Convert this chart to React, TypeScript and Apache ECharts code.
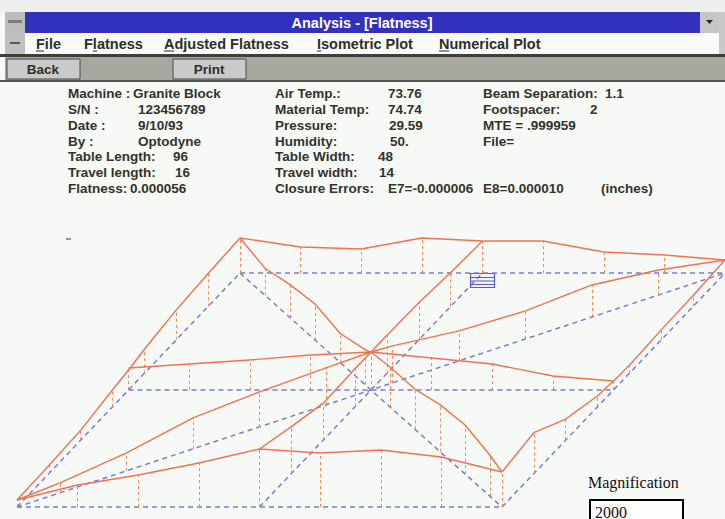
import React, { useEffect, useRef } from "react";
import * as echarts from "echarts";

// ---------- Reference plane projection (projected units, y measured up from chart bottom) ----------
const PLANE_ORIGIN = [17, 12];
const PLANE_LENGTH_VEC = [485, 0];
const PLANE_WIDTH_VEC = [223, 234];
const HEIGHT_SCALE = 1; // projected units per micro-inch at magnification 2000

// ---------- Union Jack measuring lines: start / end as (fraction of length, fraction of width) ----------
const LINE_NAMES = ["Bottom edge", "Centre length", "Top edge", "Left edge", "Centre width", "Right edge", "Diagonal A", "Diagonal B"];
const LINE_STARTS: [number, number][] = [[0, 0], [0, 0.5], [0, 1], [0, 0], [0.5, 0], [1, 0], [0, 0], [0, 1]];
const LINE_ENDS: [number, number][] = [[1, 0], [1, 0.5], [1, 1], [0, 1], [0.5, 1], [1, 1], [1, 1], [1, 0]];

// station positions along each line (fraction of the line)
const STATIONS_LENGTH = [0, 0.125, 0.25, 0.375, 0.5, 0.625, 0.75, 0.875, 1];
const STATIONS_WIDTH = [0, 0.1429, 0.2857, 0.4286, 0.5, 0.5714, 0.7143, 0.8571, 1];
const STATIONS_DIAG_A = [0, 0.0607, 0.1547, 0.2486, 0.3425, 0.4364, 0.5, 0.5304, 0.6243, 0.7182, 0.8121, 0.9061, 1];
const STATIONS_DIAG_B = [0, 0.0954, 0.1908, 0.2863, 0.3817, 0.4771, 0.5, 0.5725, 0.6679, 0.7634, 0.8588, 0.9542, 1];

// measured heights above reference plane (micro-inches, magnified)
const H_BOTTOM_EDGE = [7, 22, 32, 44, 58, 54, 57, 50, 35];
const H_CENTRE_LENGTH = [22, 26, 30, 35, 38, 32, 26, 14, 9];
const H_TOP_EDGE = [35, 26, 24, 35, 32, 32, 21, 18, 13];
const H_LEFT_EDGE = [7, 8, 10, 17, 20, 24, 30, 33, 35];
const H_CENTRE_WIDTH = [58, 47, 37, 38, 38, 38, 37, 34, 32];
const H_RIGHT_EDGE = [35, 41, 21, 11, 9, 8, 10, 11, 13];
const H_DIAG_A = [7, 10, 18, 31, 35, 37, 38, 37, 30, 28, 32, 25, 13];
const H_DIAG_B = [35, 27, 33, 36, 29, 35, 38, 40, 40, 47, 49, 41, 35];

const LINE_STATIONS = [STATIONS_LENGTH, STATIONS_LENGTH, STATIONS_LENGTH, STATIONS_WIDTH, STATIONS_WIDTH, STATIONS_WIDTH, STATIONS_DIAG_A, STATIONS_DIAG_B];
const LINE_HEIGHTS = [H_BOTTOM_EDGE, H_CENTRE_LENGTH, H_TOP_EDGE, H_LEFT_EDGE, H_CENTRE_WIDTH, H_RIGHT_EDGE, H_DIAG_A, H_DIAG_B];

// ---------- Texts ----------
const WINDOW_TITLE = "Analysis - [Flatness]";
const MENU_ITEMS = ["File", "Flatness", "Adjusted Flatness", "Isometric Plot", "Numerical Plot"];
const MENU_X = [36, 84, 164, 317, 439];

const INFO_ROWS_Y = [93, 109, 125, 141, 156, 172, 188];
const COL1_LABELS = ["Machine :", "S/N :", "Date :", "By :", "Table Length:", "Travel length:", "Flatness:"];
const COL1_VALUES = ["Granite Block", "123456789", "9/10/93", "Optodyne", "96", "16", "0.000056"];
const COL1_VALUE_X = [133, 138, 138, 138, 173, 175, 130];
const COL2_LABELS = ["Air Temp.:", "Material Temp:", "Pressure:", "Humidity:", "Table Width:", "Travel width:", "Closure Errors:"];
const COL2_VALUES = ["73.76", "74.74", "29.59", "50.", "48", "14", "E7=-0.000006"];
const COL2_VALUE_X = [388, 388, 389, 390, 378, 379, 388];
const COL3_LABELS = ["Beam Separation:", "Footspacer:", "MTE = .999959", "File=", "", "", "E8=0.000010"];
const COL3_VALUES = ["1.1", "2", "", "", "", "", "(inches)"];
const COL3_VALUE_X = [605, 590, 0, 0, 0, 0, 601];

const MAGNIFICATION_LABEL = "Magnification";
const MAGNIFICATION_VALUE = "2000";

const UI_FONT = "'Liberation Sans', Arial, sans-serif";
const INFO_COLOR = "#33332a";

function proj(fu: number, fv: number, h: number): [number, number] {
  return [
    PLANE_ORIGIN[0] + fu * PLANE_LENGTH_VEC[0] + fv * PLANE_WIDTH_VEC[0],
    PLANE_ORIGIN[1] + fu * PLANE_LENGTH_VEC[1] + fv * PLANE_WIDTH_VEC[1] + h * HEIGHT_SCALE,
  ];
}

function pointAt(i: number, t: number): [number, number] {
  const s = LINE_STARTS[i];
  const e = LINE_ENDS[i];
  return [s[0] + (e[0] - s[0]) * t, s[1] + (e[1] - s[1]) * t];
}

function rect(x: number, y: number, w: number, h: number, fill: string, stroke?: string, lw = 1): any {
  return {
    type: "rect",
    shape: { x, y, width: w, height: h },
    style: { fill, stroke: stroke || "none", lineWidth: lw },
    silent: true,
  };
}

function txt(t: string, x: number, y: number, opts: any = {}): any {
  return {
    type: "text",
    x,
    y,
    silent: true,
    style: {
      text: t,
      fill: opts.fill || INFO_COLOR,
      fontSize: opts.fontSize || 13.5,
      fontWeight: opts.fontWeight || "bold",
      fontFamily: opts.fontFamily || UI_FONT,
      align: opts.align || "left",
      verticalAlign: "middle",
    },
    z: 20,
  };
}

function hline(x1: number, x2: number, y: number, stroke: string, lw = 1): any {
  return { type: "line", shape: { x1, y1: y, x2, y2: y }, style: { stroke, lineWidth: lw }, silent: true, z: 20 };
}

export default function App() {
  const ref = useRef<HTMLDivElement>(null);

  useEffect(() => {
    if (!ref.current) return;
    const chart = echarts.init(ref.current, undefined, { renderer: "svg" });

    const refData = LINE_NAMES.map((name, i) => ({
      name,
      coords: [proj(LINE_STARTS[i][0], LINE_STARTS[i][1], 0), proj(LINE_ENDS[i][0], LINE_ENDS[i][1], 0)],
    }));
    const vertData: any[] = [];
    LINE_NAMES.forEach((name, i) => {
      LINE_STATIONS[i].forEach((t, k) => {
        const [fu, fv] = pointAt(i, t);
        vertData.push({ name, coords: [proj(fu, fv, 0), proj(fu, fv, LINE_HEIGHTS[i][k])] });
      });
    });
    const profData = LINE_NAMES.map((name, i) => ({
      name,
      coords: LINE_STATIONS[i].map((t, k) => {
        const [fu, fv] = pointAt(i, t);
        return proj(fu, fv, LINE_HEIGHTS[i][k]);
      }),
    }));

    const g: any[] = [];
    // window frame
    g.push(rect(0, 0, 725, 12, "#eef0ee"));
    g.push(rect(5, 12, 20, 21, "#bdbdbd"));
    g.push(rect(8, 20, 14, 3, "#7c7c7c"));
    g.push(rect(25, 12, 675, 21, "#3131bd"));
    g.push(txt(WINDOW_TITLE, 362, 22.5, { fill: "#ffffff", fontSize: 14.5, align: "center" }));
    g.push(rect(700, 12, 19, 21, "#c6c6c6"));
    g.push({ type: "polygon", shape: { points: [[706, 20], [713, 20], [709.5, 24]] }, style: { fill: "#2a2a2a" }, silent: true, z: 20 });
    g.push(rect(719, 12, 6, 43, "#c8c8c8"));
    // menu bar
    g.push(rect(5, 33, 714, 21, "#f9fbf9"));
    g.push(rect(5, 33, 20, 21, "#c0c0c0"));
    g.push(rect(10, 42, 10, 2, "#5a5a5a"));
    MENU_ITEMS.forEach((m, i) => {
      g.push(txt(m, MENU_X[i], 43.5, { fill: "#2e2e2a", fontSize: 14.5 }));
    });
    // underlined mnemonic letters
    g.push(hline(36, 44, 51, "#2e2e2a"));
    g.push(hline(93, 97, 51, "#2e2e2a"));
    g.push(hline(164, 174, 51, "#2e2e2a"));
    g.push(hline(317, 321, 51, "#2e2e2a"));
    g.push(hline(439, 449, 51, "#2e2e2a"));
    // toolbar
    g.push(rect(0, 54, 725, 3, "#3e3e3a"));
    g.push(rect(5, 57, 720, 23, "#a7a79f"));
    g.push(rect(7, 59, 73, 20, "#cacaca", "#4a4a46", 1));
    g.push(txt("Back", 43, 69.5, { fill: "#2e2e2a", fontSize: 13.5, align: "center" }));
    g.push(rect(173, 59, 73, 20, "#cacaca", "#4a4a46", 1));
    g.push(txt("Print", 209, 69.5, { fill: "#2e2e2a", fontSize: 13.5, align: "center" }));
    g.push(rect(0, 80, 725, 2, "#55554f"));

    // info block
    INFO_ROWS_Y.forEach((y, r) => {
      g.push(txt(COL1_LABELS[r], 68, y));
      g.push(txt(COL1_VALUES[r], COL1_VALUE_X[r], y));
      g.push(txt(COL2_LABELS[r], 275, y));
      g.push(txt(COL2_VALUES[r], COL2_VALUE_X[r], y));
      if (COL3_LABELS[r]) g.push(txt(COL3_LABELS[r], 483, y));
      if (COL3_VALUES[r]) g.push(txt(COL3_VALUES[r], COL3_VALUE_X[r], y));
    });

    // small marker dash and selection icon
    g.push(hline(66, 71, 239, "#555555", 1.2));
    g.push(rect(470.5, 273.5, 24, 14, "#f2f2fb", "#5b5bc6", 1.2));
    g.push(hline(471, 494, 277.5, "#5b5bc6", 1));
    g.push(hline(471, 494, 281, "#5b5bc6", 1));
    g.push(hline(471, 494, 284.5, "#5b5bc6", 1));

    // magnification box
    g.push(txt(MAGNIFICATION_LABEL, 588, 482, { fill: "#111111", fontSize: 16, fontWeight: "normal", fontFamily: "'Liberation Serif', 'Times New Roman', serif" }));
    g.push(rect(590, 500, 93, 26, "#fdfdfd", "#000000", 2));
    g.push(txt(MAGNIFICATION_VALUE, 595, 512, { fill: "#111111", fontSize: 16, fontWeight: "normal", fontFamily: "'Liberation Serif', 'Times New Roman', serif" }));

    chart.setOption({
      animation: false,
      backgroundColor: "#f7f9f6",
      grid: { left: 0, right: 0, top: 0, bottom: 0, containLabel: false },
      xAxis: { type: "value", min: 0, max: 725, show: false, splitLine: { show: false } },
      yAxis: { type: "value", min: 0, max: 519, show: false, splitLine: { show: false } },
      series: [
        {
          name: "Reference plane",
          type: "lines",
          coordinateSystem: "cartesian2d",
          polyline: false,
          silent: true,
          data: refData,
          lineStyle: { color: "#7c7cd8", width: 1.5, type: [5, 4], opacity: 1 },
          z: 2,
        },
        {
          name: "Station offsets",
          type: "lines",
          coordinateSystem: "cartesian2d",
          polyline: false,
          silent: true,
          data: vertData,
          lineStyle: { color: "#f08a60", width: 1, type: [3, 3], opacity: 1 },
          z: 3,
        },
        {
          name: "Measured surface",
          type: "lines",
          coordinateSystem: "cartesian2d",
          polyline: true,
          silent: true,
          data: profData,
          lineStyle: { color: "#f3714f", width: 1.4, opacity: 1 },
          z: 4,
        },
      ],
      graphic: { elements: g },
    });

    return () => chart.dispose();
  }, []);

  return <div ref={ref} style={{ position: "absolute", left: 0, top: 0, width: 725, height: 519 }} />;
}
